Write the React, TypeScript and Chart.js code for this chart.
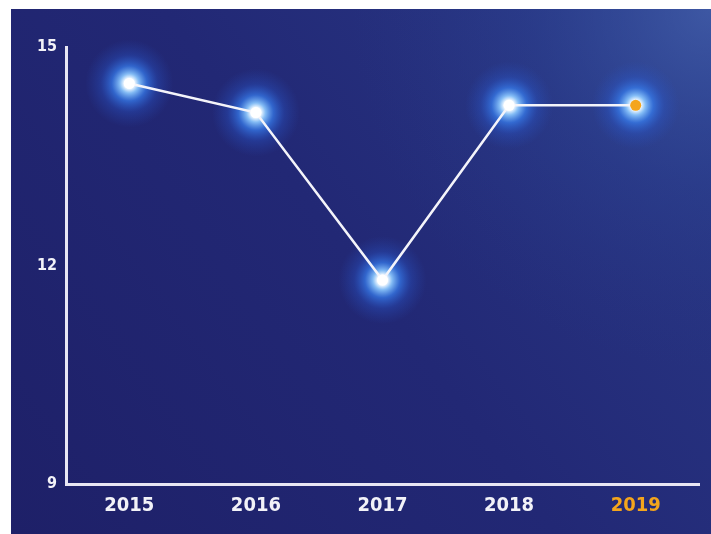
import React, { useEffect, useRef } from "react";
import { Chart, registerables } from "chart.js";

Chart.register(...registerables);

const categories = ["2015", "2016", "2017", "2018", "2019"];
const values = [14.5, 14.1, 11.8, 14.2, 14.2];
const yTicks = [9, 12, 15];
const highlightIndex = 4;

const ORANGE = "#f4a51c";
const AXIS = "#e8e6f4";
const FONT_FAMILY = "'DejaVu Sans', sans-serif";

const bgPlugin = {
  id: "bgPlugin",
  beforeDraw(chart: any) {
    const ctx = chart.ctx;
    const w = chart.width;
    const h = chart.height;
    ctx.save();
    ctx.fillStyle = "#ffffff";
    ctx.fillRect(0, 0, w, h);
    const x0 = 11, y0 = 9;
    const lg = ctx.createLinearGradient(x0, h, w, y0);
    lg.addColorStop(0, "#1e2068");
    lg.addColorStop(0.5, "#222875");
    lg.addColorStop(1, "#2a3a88");
    ctx.fillStyle = lg;
    ctx.fillRect(x0, y0, w - x0, h - y0);
    const rg = ctx.createRadialGradient(w, y0, 0, w, y0, 360);
    rg.addColorStop(0, "rgba(70,100,175,0.7)");
    rg.addColorStop(0.5, "rgba(50,80,160,0.25)");
    rg.addColorStop(1, "rgba(40,60,140,0)");
    ctx.fillStyle = rg;
    ctx.fillRect(x0, y0, w - x0, h - y0);
    ctx.restore();
  },
};

const glowPlugin = {
  id: "glowPlugin",
  beforeDatasetsDraw(chart: any) {
    const ctx = chart.ctx;
    const meta = chart.getDatasetMeta(0);
    ctx.save();
    meta.data.forEach((pt: any) => {
      const R = 44;
      const g = ctx.createRadialGradient(pt.x, pt.y, 0, pt.x, pt.y, R);
      g.addColorStop(0, "rgba(255,255,255,1)");
      g.addColorStop(0.12, "rgba(240,248,255,1)");
      g.addColorStop(0.22, "rgba(140,200,255,0.92)");
      g.addColorStop(0.4, "rgba(55,125,238,0.72)");
      g.addColorStop(0.65, "rgba(42,92,212,0.32)");
      g.addColorStop(1, "rgba(40,80,190,0)");
      ctx.fillStyle = g;
      ctx.beginPath();
      ctx.arc(pt.x, pt.y, R, 0, Math.PI * 2);
      ctx.fill();
    });
    ctx.restore();
  },
};

export default function App() {
  const ref = useRef<HTMLCanvasElement | null>(null);
  useEffect(() => {
    if (!ref.current) return;
    const chart = new Chart(ref.current, {
      type: "line",
      data: {
        labels: categories,
        datasets: [
          {
            data: values,
            borderColor: "#f4f4fa",
            borderWidth: 2.5,
            pointRadius: 5.5,
            pointBorderWidth: 0,
            pointBackgroundColor: values.map((_, i) => (i === highlightIndex ? ORANGE : "#ffffff")),
            tension: 0,
          },
        ],
      },
      options: {
        responsive: false,
        animation: false,
        layout: { padding: { top: 47, right: 12, left: 0, bottom: 0 } },
        plugins: { legend: { display: false }, tooltip: { enabled: false } },
        scales: {
          x: {
            type: "category",
            offset: true,
            grid: { display: false, drawTicks: false },
            border: { display: true, color: AXIS, width: 3 },
            ticks: {
              padding: 10,
              color: (c: any) => (c.index === highlightIndex ? ORANGE : "#f2f2f8"),
              font: { family: FONT_FAMILY, size: 20, weight: "bold condensed" as any },
            },
            afterFit(scale: any) {
              scale.height = 50;
            },
          },
          y: {
            min: 9,
            max: 15,
            afterBuildTicks(scale: any) {
              scale.ticks = yTicks.map((v) => ({ value: v }));
            },
            grid: { display: false, drawTicks: false },
            border: { display: true, color: AXIS, width: 3 },
            ticks: {
              padding: 9,
              color: "#f2f2f8",
              font: { family: FONT_FAMILY, size: 16, weight: "bold condensed" as any },
            },
            afterFit(scale: any) {
              scale.width = 66;
            },
          },
        },
      },
      plugins: [bgPlugin, glowPlugin],
    });
    return () => chart.destroy();
  }, []);
  return (
    <div style={{ position: "fixed", left: 0, top: 0, width: 711, height: 534 }}>
      <canvas ref={ref} width={711} height={534} style={{ display: "block" }} />
    </div>
  );
}
